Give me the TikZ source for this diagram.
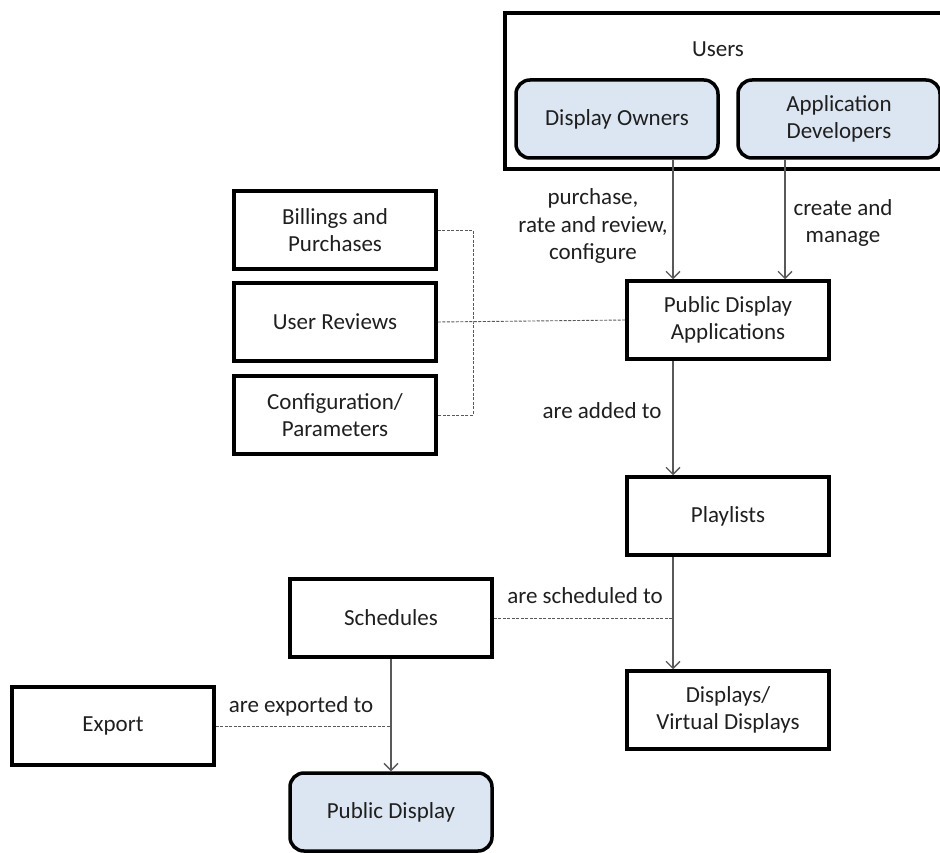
\documentclass[tikz,border=0pt]{standalone}
\usepackage{fontspec}
\setmainfont{Carlito}
\usetikzlibrary{arrows.meta}
\definecolor{userblue}{HTML}{DCE6F2}
\definecolor{linegray}{HTML}{595959}

\begin{document}
\begin{tikzpicture}[x=1pt, y=-1pt,
	every node/.style={font=\fontsize{23}{27.5}\selectfont, text=black!88},
	box/.style={draw, line width=3.5pt, minimum width=202pt, minimum height=78pt, align=center, inner sep=0pt},
	actor/.style={box, rounded corners=14pt, fill=userblue},
	flow/.style={linegray, line width=1.3pt, -{Straight Barb[length=7pt, width=14pt]}},
	link/.style={linegray, line width=0.9pt, dash pattern=on 3pt off 1.5pt}]
	\useasboundingbox (0,0) rectangle (940,853);
	\clip (0,0) rectangle (940,853);
	% users
	\node[box, line width=4pt, minimum width=440pt, minimum height=156pt] (users) at (725,91) {};
	\node (userstitle) at (718,49) {Users};
	\node[actor] (owners) at (617,119) {Display Owners};
	\node[actor] (devs) at (839,119) {Application\\Developers};
	% data attached to the applications
	\node[box] (billing) at (335,230) {Billings and\\Purchases};
	\node[box] (reviews) at (335,322) {User Reviews};
	\node[box] (config) at (335,415) {Configuration/\\Parameters};
	% main chain
	\node[box] (apps) at (728,320) {Public Display\\Applications};
	\node[box] (playlists) at (728,516) {Playlists};
	\node[box] (displays) at (728,710) {Displays/\\Virtual Displays};
	\node[box] (schedules) at (391,618) {Schedules};
	\node[box] (export) at (113,726) {Export};
	\node[actor] (public) at (391,812) {Public Display};

	\draw[flow] ([xshift=56pt]owners.south) -- ([xshift=56pt]owners.south |- apps.north);
	\draw[flow] ([xshift=-54pt]devs.south) -- ([xshift=-54pt]devs.south |- apps.north);
	\draw[flow] ([xshift=-55pt]apps.south) -- ([xshift=-55pt]playlists.north);
	\draw[flow] ([xshift=-55pt]playlists.south) -- ([xshift=-55pt]displays.north);
	\draw[flow] (schedules.south) -- (public.north);

	\coordinate (bus) at (473,322);
	\draw[link] (billing.east) -| (bus) |- (config.east);
	\draw[link] (reviews.east) -- (apps.west);
	\draw[link] (schedules.east) -- ([xshift=-55pt]playlists.south |- schedules.east);
	\draw[link] (export.east) -- (export.east -| schedules.south);

	\node[align=center] (buylabel) at (593,226) {purchase,\\rate and review,\\configure};
	\node[align=center] (makelabel) at (843,223) {create and\\manage};
	\node (addlabel) at (602,411) {are added to};
	\node (schedlabel) at (585,596) {are scheduled to};
	\node (exportlabel) at (301,706) {are exported to};
\end{tikzpicture}
\end{document}
